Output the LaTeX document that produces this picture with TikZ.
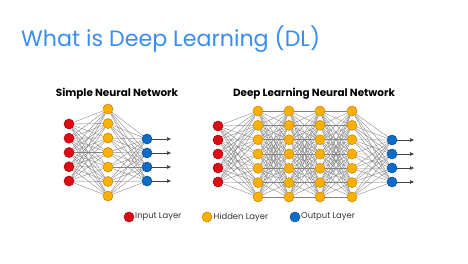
\documentclass[tikz,border=0pt]{standalone}
\usepackage{fontspec}
\setmainfont{Poppins}
\usetikzlibrary{positioning, arrows.meta, backgrounds}
\definecolor{titleblue}{RGB}{58, 142, 240}
\definecolor{inred}{RGB}{222, 10, 20}
\definecolor{hidorange}{RGB}{255, 176, 0}
\definecolor{outblue}{RGB}{14, 108, 200}
\definecolor{wiregray}{RGB}{130, 130, 130}
\tikzset{
  neuron/.style={circle, minimum size=10pt, inner sep=0pt, line width=0.5pt},
  inneuron/.style={neuron, fill=inred, draw=inred!70!black},
  hidneuron/.style={neuron, fill=hidorange, draw=hidorange!75!black},
  outneuron/.style={neuron, fill=outblue, draw=outblue!70!black},
  wire/.style={draw=wiregray, line width=0.35pt},
  outwire/.style={draw=black!75, line width=0.7pt, -{Triangle[length=4pt, width=3.5pt]}}
}

\begin{document}
\begin{tikzpicture}[x=1pt, y=-1pt]
  \useasboundingbox (0,0) rectangle (468,264);

  % Title
  \node[anchor=base west, inner sep=0pt, font=\fontsize{22.2}{26}\selectfont, text=titleblue] (title) at (21,47) {What is Deep Learning (DL)};

  % Simple network
  \node[font=\fontsize{10.4}{12}\selectfont\bfseries] (simplelbl) at (117,94) {Simple Neural Network};
  \foreach \i in {1,...,5} \node[inneuron] (s0-\i) at (69,{124+14.25*(\i-1)}) {};
  \foreach \j in {1,...,7} \node[hidneuron] (s1-\j) at (108,{109+14.5*(\j-1)}) {};
  \foreach \k in {1,...,4} {
    \node[outneuron] (s2-\k) at (147,{139+14*(\k-1)}) {};
    \coordinate (s2end-\k) at (171,{139+14*(\k-1)});
  }
  \begin{scope}[on background layer]
    \fill[white] (0,0) rectangle (468,264);
    \foreach \i in {1,...,5} \foreach \j in {1,...,7} \draw[wire] (s0-\i) -- (s1-\j);
    \foreach \j in {1,...,7} \foreach \k in {1,...,4} \draw[wire] (s1-\j) -- (s2-\k);
  \end{scope}
  \foreach \k in {1,...,4} \draw[outwire] (s2-\k) -- (s2end-\k);

  % Deep network
  \node[font=\fontsize{10.4}{12}\selectfont\bfseries] (deeplbl) at (314,94) {Deep Learning Neural Network};
  \foreach \i in {1,...,5} \node[inneuron] (d0-\i) at (218,{126+14*(\i-1)}) {};
  \foreach \x [count=\l] in {258,289,320,352}
    \foreach \j in {1,...,7} \node[hidneuron] (d\l-\j) at (\x,{111+14.33*(\j-1)}) {};
  \foreach \k in {1,...,4} {
    \node[outneuron] (d5-\k) at (392,{140+14*(\k-1)}) {};
    \coordinate (d5end-\k) at (414,{140+14*(\k-1)});
  }
  \begin{scope}[on background layer]
    \foreach \i in {1,...,5} \foreach \j in {1,...,7} \draw[wire] (d0-\i) -- (d1-\j);
    \foreach \l [evaluate=\l as \m using int(\l+1)] in {1,2,3}
      \foreach \i in {1,...,7} \foreach \j in {1,...,7} \draw[wire] (d\l-\i) -- (d\m-\j);
    \foreach \j in {1,...,7} \foreach \k in {1,...,4} \draw[wire] (d4-\j) -- (d5-\k);
  \end{scope}
  \foreach \k in {1,...,4} \draw[outwire] (d5-\k) -- (d5end-\k);

  % Legend
  \node[inneuron] (keyin) at (129,217) {};
  \node[anchor=west, inner sep=1pt, font=\fontsize{8.4}{10}\selectfont, text=black!80] (keyintxt) at (134,217) {Input Layer};
  \node[hidneuron] (keyhid) at (207,217) {};
  \node[anchor=west, inner sep=1pt, font=\fontsize{8.4}{10}\selectfont, text=black!80] (keyhidtxt) at (212.5,217) {Hidden Layer};
  \node[outneuron] (keyout) at (295,217) {};
  \node[anchor=west, inner sep=1pt, font=\fontsize{8.4}{10}\selectfont, text=black!80] (keyouttxt) at (300,217) {Output Layer};
\end{tikzpicture}
\end{document}
